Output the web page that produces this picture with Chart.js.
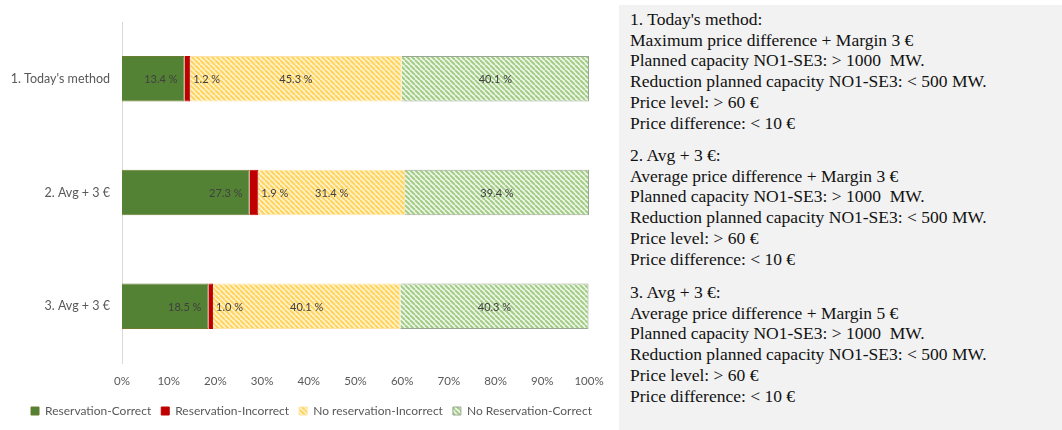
<!DOCTYPE html>
<html>
<head>
<meta charset="utf-8">
<script src="https://cdn.jsdelivr.net/npm/chart.js@4.4.1/dist/chart.umd.min.js"></script>
<style>
  html, body { margin: 0; padding: 0; background: #ffffff; }
  #wrap { position: absolute; left: 0; top: 0; width: 615px; height: 430px; }
  #panel { position: absolute; left: 619px; top: 5px; width: 443px; height: 425px; background: #f2f2f2; }
  .grp { position: absolute; left: 630px; font-family: "Liberation Serif", "Times New Roman", serif; font-size: 17.5px; line-height: 20.7px; color: #111; white-space: pre; }
</style>
</head>
<body>
<div id="wrap"><canvas id="c" width="615" height="430"></canvas></div>
<div id="panel"></div>
<div id="notes"></div>
<script>
// ---- data ----
const categories = ["1. Today's method", "2. Avg + 3 €", "3. Avg + 3 €"];
const seriesNames = ["Reservation-Correct", "Reservation-Incorrect", "No reservation-Incorrect", "No Reservation-Correct"];
const reservationCorrect   = [13.4, 27.3, 18.5];
const reservationIncorrect = [1.2, 1.9, 1.0];
const noReservationIncorrect = [45.3, 31.4, 40.1];
const noReservationCorrect   = [40.1, 39.4, 40.3];
const xTicks = [0, 10, 20, 30, 40, 50, 60, 70, 80, 90, 100];

const note1 = ["1. Today's method:", "Maximum price difference + Margin 3 €", "Planned capacity NO1-SE3: > 1000  MW.", "Reduction planned capacity NO1-SE3: < 500 MW.", "Price level: > 60 €", "Price difference: < 10 €"];
const note2 = ["2. Avg + 3 €:", "Average price difference + Margin 3 €", "Planned capacity NO1-SE3: > 1000  MW.", "Reduction planned capacity NO1-SE3: < 500 MW.", "Price level: > 60 €", "Price difference: < 10 €"];
const note3 = ["3. Avg + 3 €:", "Average price difference + Margin 5 €", "Planned capacity NO1-SE3: > 1000  MW.", "Reduction planned capacity NO1-SE3: < 500 MW.", "Price level: > 60 €", "Price difference: < 10 €"];

// ---- notes panel ----
const notes = document.getElementById('notes');
[[note1, 9], [note2, 145], [note3, 282]].forEach(([lines, top]) => {
  const d = document.createElement('div');
  d.className = 'grp';
  d.style.top = top + 'px';
  lines.forEach(t => { const l = document.createElement('div'); l.textContent = t; d.appendChild(l); });
  notes.appendChild(d);
});

// ---- patterns ----
function hatch(bg, fg, size, lw) {
  const c = document.createElement('canvas');
  c.width = c.height = size;
  const x = c.getContext('2d');
  x.fillStyle = bg; x.fillRect(0, 0, size, size);
  x.strokeStyle = fg; x.lineWidth = lw;
  x.beginPath();
  for (let k = -size; k <= size; k += size) {
    x.moveTo(k, 0); x.lineTo(k + size, size);
  }
  x.stroke();
  return x.createPattern(c, 'repeat');
}
const ctx = document.getElementById('c').getContext('2d');
const yellowHatch = hatch('#fff4cf', '#ffd35c', 5, 2);
const greenHatch = hatch('#f1f8ec', '#a3cd86', 5, 2);

const chartFont = '"Lato", "Open Sans", sans-serif';

const labelPlugin = {
  id: 'barLabels',
  afterDatasetsDraw(chart) {
    const c = chart.ctx;
    c.save();
    c.font = '11px ' + chartFont;
    c.fillStyle = '#404040';
    c.textBaseline = 'middle';
    chart.data.datasets.forEach((ds, di) => {
      const meta = chart.getDatasetMeta(di);
      meta.data.forEach((el, i) => {
        const v = ds.data[i];
        const txt = v.toFixed(1) + ' %';
        let x;
        if (di === 0) { c.textAlign = 'right'; x = el.x - 7; }
        else if (di === 1) { c.textAlign = 'left'; x = el.x + 3; }
        else { c.textAlign = 'center'; x = (el.x + el.base) / 2; }
        c.fillText(txt, x, el.y + 1);
      });
    });
    c.restore();
  }
};

const legendShift = {
  id: 'legendShift',
  afterLayout(chart) {
    const lg = chart.legend;
    if (lg) { lg.left += 17; lg.right += 17; }
  }
};

new Chart(ctx, {
  type: 'bar',
  data: {
    labels: categories,
    datasets: [
      { label: seriesNames[0], data: reservationCorrect, backgroundColor: '#548235', borderColor: '#6b7d2c', borderWidth: 1 },
      { label: seriesNames[1], data: reservationIncorrect, backgroundColor: '#c00000', borderColor: '#c00000', borderWidth: 1 },
      { label: seriesNames[2], data: noReservationIncorrect, backgroundColor: yellowHatch, borderColor: '#ffe3a6', borderWidth: 1 },
      { label: seriesNames[3], data: noReservationCorrect, backgroundColor: greenHatch, borderColor: '#9aa794', borderWidth: 1 }
    ]
  },
  options: {
    responsive: false,
    animation: false,
    indexAxis: 'y',
    barPercentage: 0.40,
    categoryPercentage: 1.0,
    layout: { padding: { left: 0, right: 26, top: 22, bottom: 3 } },
    scales: {
      x: {
        stacked: true, min: 0, max: 100,
        afterBuildTicks(s) { s.ticks = xTicks.map(v => ({ value: v })); },
        afterFit(s) { s.height = 32; },
        grid: { display: false, drawTicks: false },
        border: { display: false },
        ticks: { padding: 11, color: '#595959', font: { family: chartFont, size: 11.5 }, callback: v => v + '%' }
      },
      y: {
        stacked: true,
        afterFit(s) { s.width = 122; },
        grid: { display: false, drawTicks: false },
        border: { display: true, color: '#d9d9d9', width: 1 },
        ticks: { padding: 12, color: '#595959', font: { family: chartFont, size: 12.5 } }
      }
    },
    plugins: {
      legend: {
        position: 'bottom',
        labels: { boxWidth: 8, boxHeight: 8, padding: 10, color: '#595959', font: { family: chartFont, size: 12 } }
      },
      tooltip: { enabled: false }
    }
  },
  plugins: [labelPlugin, legendShift]
});
</script>
</body>
</html>
